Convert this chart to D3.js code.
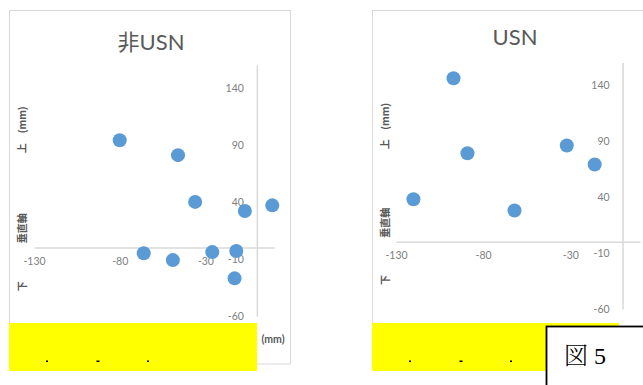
<!DOCTYPE html>
<html>
<head>
<meta charset="utf-8">
<script src="https://cdn.jsdelivr.net/npm/d3@7"></script>
<style>
  html, body { margin: 0; padding: 0; background: #fff; }
  svg { display: block; }
</style>
</head>
<body>
<svg id="chart" width="643" height="385"></svg>
<script>
// Displacement of points (mm): horizontal vs vertical
const nonUsnX = [-80, -46, -36, 9, -7, -66, -49, -26, -12, -13];
const nonUsnY = [94, 81, 40, 37, 32, -5, -11, -4, -3, -27];
const usnX = [-97, -89, -32, -16, -120, -62];
const usnY = [146, 79, 86, 69, 38, 28];

const titles = ["非USN", "USN"];
const xTicks = [-130, -80, -30];
const yTicks = [-60, -10, 40, 90, 140];
const xDomain = [-130, 10];
const yDomain = [-60, 160];
const figLabel = ["図", "5"];

const svg = d3.select("#chart");
const labelFont = "Lato, 'Liberation Sans', 'Noto Sans CJK JP', sans-serif";
const gridGrey = "#d9d9d9";
const textGrey = "#595959";
const tickGrey = "#808080";
const dotBlue = "#5b9bd5";
const plainNum = d => String(d);

const panels = [
  { title: titles[0], xs: nonUsnX, ys: nonUsnY,
    frame: { x: 9.5, y: 10.5, w: 281, h: 353.5 },
    xRange: [34, 274], yRange: [316, 65],
    titleY: 50, axisTitleX: 22, unit: true,
    yellow: { x: 9, y: 323, w: 248, h: 48 } },
  { title: titles[1], xs: usnX, ys: usnY,
    frame: { x: 372.5, y: 10.5, w: 290, h: 353.5 },
    xRange: [396, 640], yRange: [309, 62.6],
    titleY: 45, axisTitleX: 385, unit: false,
    yellow: { x: 372, y: 323, w: 247, h: 48 } }
];

panels.forEach(p => {
  const g = svg.append("g");
  const x = d3.scaleLinear().domain(xDomain).range(p.xRange);
  const y = d3.scaleLinear().domain(yDomain).range(p.yRange);

  // chart area frame
  g.append("rect")
    .attr("x", p.frame.x).attr("y", p.frame.y)
    .attr("width", p.frame.w).attr("height", p.frame.h)
    .attr("fill", "#fff").attr("stroke", gridGrey).attr("stroke-width", 1);

  // title
  g.append("text")
    .attr("x", (p.xRange[0] + p.xRange[1]) / 2 - 3)
    .attr("y", p.titleY)
    .attr("text-anchor", "middle")
    .attr("font-family", labelFont)
    .attr("font-size", 22)
    .attr("fill", textGrey)
    .text(p.title);

  // vertical value axis crossing at x = 0
  const yAxis = d3.axisLeft(y).tickValues(yTicks).tickFormat(plainNum).tickSize(0).tickPadding(13);
  const yg = g.append("g").attr("transform", `translate(${x(0)},0)`).call(yAxis);
  yg.select(".domain").attr("stroke", gridGrey).attr("stroke-width", 1.5);
  yg.selectAll("text").attr("font-family", labelFont).attr("font-size", 10.5).attr("fill", tickGrey);

  // horizontal value axis crossing at y = 0
  const xAxis = d3.axisBottom(x).tickValues(xTicks).tickFormat(plainNum).tickSize(0).tickPadding(10);
  const xg = g.append("g").attr("transform", `translate(0,${y(0)})`).call(xAxis);
  xg.select(".domain").attr("stroke", gridGrey).attr("stroke-width", 1.5);
  xg.selectAll("text").attr("font-family", labelFont).attr("font-size", 10.5).attr("fill", tickGrey);

  // vertical axis title pieces (rotated)
  const vTitle = [
    { t: "下", v: -34 },
    { t: "垂直軸", v: 17 },
    { t: "上", v: 87 },
    { t: "(mm)", v: 112 }
  ];
  g.selectAll("text.vtitle").data(vTitle).join("text")
    .attr("class", "vtitle")
    .attr("transform", d => `translate(${p.axisTitleX + 4},${y(d.v)}) rotate(-90)`)
    .attr("text-anchor", "middle")
    .attr("font-family", "'Noto Sans CJK JP', sans-serif")
    .attr("font-size", 10)
    .attr("font-weight", "bold")
    .attr("fill", textGrey)
    .text(d => d.t);

  // horizontal axis unit
  if (p.unit) {
    g.append("text")
      .attr("x", x(10) - 1)
      .attr("y", y(-60) + 27)
      .attr("text-anchor", "middle")
      .attr("font-family", labelFont)
      .attr("font-size", 10.5)
      .attr("font-weight", "bold")
      .attr("fill", textGrey)
      .text("(mm)");
  }

  // data points
  g.selectAll("circle").data(p.xs.map((v, i) => [v, p.ys[i]])).join("circle")
    .attr("cx", d => x(d[0]))
    .attr("cy", d => y(d[1]))
    .attr("r", 7)
    .attr("fill", dotBlue);

  // yellow cover over the horizontal axis title
  g.append("rect")
    .attr("x", p.yellow.x).attr("y", p.yellow.y)
    .attr("width", p.yellow.w).attr("height", p.yellow.h)
    .attr("fill", "#ffff00");
  [0, 1, 2].forEach(i => {
    g.append("rect")
      .attr("x", p.yellow.x + 37 + i * 50.5)
      .attr("y", 360.5)
      .attr("width", i === 1 ? 3 : 2)
      .attr("height", 1.5)
      .attr("fill", "#000");
  });
});

// figure label box
const box = svg.append("g");
box.append("rect")
  .attr("x", 546.5).attr("y", 326.5)
  .attr("width", 110).attr("height", 70)
  .attr("fill", "#fff").attr("stroke", "#000").attr("stroke-width", 1.8);
const lbl = box.append("text")
  .attr("x", 564).attr("y", 364)
  .attr("font-size", 24)
  .attr("fill", "#000");
lbl.append("tspan")
  .attr("font-family", "'Noto Serif CJK JP', 'Noto Sans CJK JP', serif")
  .attr("font-weight", 300)
  .text(figLabel[0]);
lbl.append("tspan")
  .attr("dx", 6)
  .attr("font-family", "'Liberation Serif', 'DejaVu Serif', serif")
  .text(figLabel[1]);
</script>
</body>
</html>
